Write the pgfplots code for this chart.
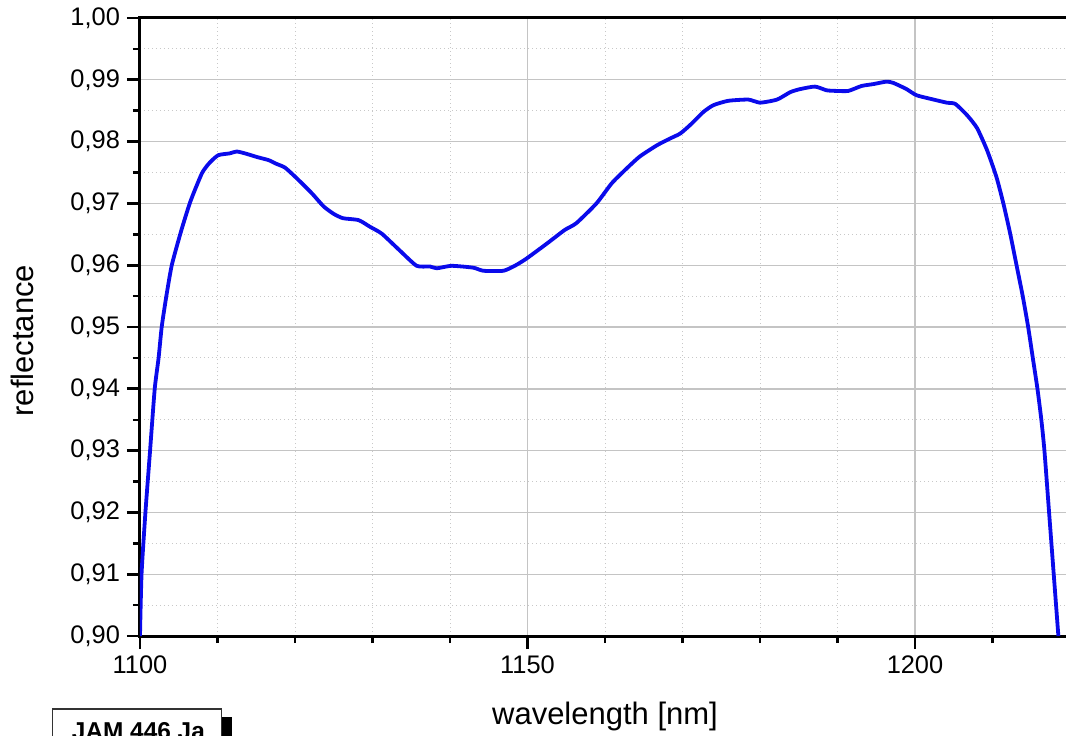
\documentclass[border=0pt]{standalone}
\usepackage{fontspec}
\setmainfont{Liberation Sans}
\usepackage{pgfplots}
\pgfplotsset{compat=1.18}
\definecolor{curve}{RGB}{10,10,235}
\definecolor{gridmaj}{RGB}{196,196,196}
\definecolor{gridmin}{RGB}{200,200,200}
\begin{document}
\begin{tikzpicture}
\begin{axis}[
    at={(0,0)}, anchor=south west,
    scale only axis,
    width=465pt, height=309pt,
    xmin=1100, xmax=1220,
    ymin=0.90, ymax=1.00,
    xtick={1100,1150,1200},
    minor xtick={1110,1120,1130,1140,1160,1170,1180,1190,1210},
    ytick={0.90,0.91,0.92,0.93,0.94,0.95,0.96,0.97,0.98,0.99,1.00},
    minor ytick={0.905,0.915,0.925,0.935,0.945,0.955,0.965,0.975,0.985,0.995},
    grid=both,
    major grid style={gridmaj, line width=0.7pt},
    minor grid style={gridmin, line width=0.5pt, dash pattern=on 0.5pt off 1.5pt},
    tick align=outside,
    xtick pos=bottom, ytick pos=left,
    major tick length=6.5pt, minor tick length=3.5pt,
    major tick style={black, line width=1.4pt},
    minor tick style={black, line width=1.2pt},
    axis line style={line width=1.5pt},
    tick label style={font=\fontsize{12.7}{15}\selectfont},
    /pgf/number format/assume math mode=true,
    yticklabel style={/pgf/number format/.cd, fixed, fixed zerofill, precision=2, use comma},
    xticklabel style={/pgf/number format/1000 sep={}},
    xlabel={wavelength [nm]},
    ylabel={reflectance},
    label style={font=\fontsize{15.5}{18}\selectfont},
    xlabel style={at={(axis description cs:0.5,-0.1424)}, anchor=base},
    ylabel style={at={(axis description cs:-0.114,0.478)}, anchor=base},
]
% measured reflectance curve
\addplot[curve, line width=1.9pt, line join=round, smooth, tension=0.35] coordinates {
(1100.0,0.9000) (1100.2,0.9100) (1100.7,0.9200) (1101.3,0.9300) (1101.9,0.9400)
(1102.4,0.9450) (1102.8,0.9500) (1103.4,0.9550) (1104.1,0.9600) (1105.3,0.9655)
(1106.5,0.9703) (1108.0,0.9749) (1109.0,0.9766) (1110.1,0.9778) (1111.6,0.9781)
(1112.5,0.9784) (1113.8,0.9780) (1115.1,0.9775) (1116.6,0.9770) (1117.6,0.9764)
(1118.7,0.9758) (1120.2,0.9741) (1122.2,0.9716) (1123.7,0.9695) (1125.0,0.9683)
(1126.2,0.9676) (1128.2,0.9673) (1129.7,0.9662) (1131.2,0.9651) (1133.5,0.9624)
(1135.7,0.9599) (1137.4,0.9598) (1138.3,0.9595) (1140.2,0.9599) (1143.0,0.9596)
(1144.3,0.9591) (1146.9,0.9591) (1148.5,0.9600) (1149.9,0.9611) (1152.5,0.9635)
(1154.8,0.9657) (1156.3,0.9668) (1158.9,0.9700) (1160.9,0.9733) (1163.0,0.9759)
(1164.5,0.9776) (1166.7,0.9794) (1168.4,0.9805) (1169.7,0.9813) (1171.0,0.9827)
(1172.7,0.9848) (1174.0,0.9859) (1175.9,0.9866) (1178.5,0.9868) (1180.0,0.9863)
(1182.2,0.9868) (1183.9,0.9880) (1185.2,0.9885) (1187.1,0.9889) (1188.6,0.9883)
(1189.9,0.9882) (1191.4,0.9882) (1193.1,0.9890) (1194.6,0.9893) (1196.3,0.9897)
(1197.2,0.9895) (1198.9,0.9885) (1200.2,0.9875) (1202.4,0.9868) (1204.1,0.9863)
(1205.2,0.9861) (1206.7,0.9843) (1208.0,0.9822) (1209.3,0.9786) (1210.5,0.9743)
(1211.4,0.9700) (1212.3,0.9650) (1213.1,0.9600) (1213.9,0.9550) (1214.6,0.9500)
(1215.2,0.9450) (1215.8,0.9400) (1216.3,0.9350) (1216.7,0.9300) (1217.3,0.9200)
(1217.9,0.9100) (1218.5,0.9000)
};
\end{axis}
% sample label box, cut by the lower edge as in the original
\fill[black] (40.85pt,-40.5pt) rectangle (45.85pt,-70pt);
\draw[fill=white, draw=black!80, line width=0.6pt] (-43.65pt,-36.5pt) rectangle (40.85pt,-70pt);
\node[font=\bfseries\fontsize{12.2}{14}\selectfont, anchor=base, inner sep=0pt] at (-0.8pt,-51.75pt) {JAM 446 Ja};
\pgfresetboundingbox
\path[use as bounding box] (-70pt,-49.5pt) rectangle (463pt,318pt);
\end{tikzpicture}
\end{document}
